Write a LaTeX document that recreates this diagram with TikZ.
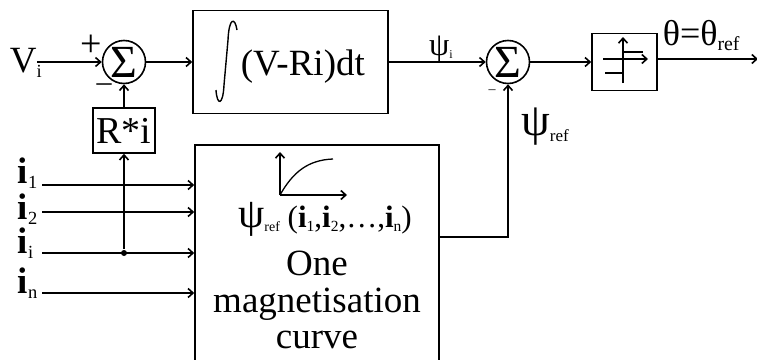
\documentclass[tikz,border=0pt]{standalone}
\usepackage{fontspec}
\setmainfont{Liberation Serif}
\usetikzlibrary{arrows.meta,calc}
\newcommand\lo[2][0.5]{\raisebox{-0.15em}{\scalebox{#1}{#2}}}
\newcommand\fs[1]{\fontsize{#1}{#1}\selectfont}
\newcommand\psibig{\scalebox{1.35}{ψ}}
\begin{document}
\begin{tikzpicture}[x=1pt,y=-1pt, line width=1.6pt,
  arr/.style={-{Straight Barb[length=5pt,width=9pt,line width=1.6pt]}},
  blk/.style={draw, rectangle, inner sep=0pt, line width=1.6pt},
  sumc/.style={draw, circle, minimum size=43pt, inner sep=0pt, font=\fs{46}},
  lbl/.style={inner sep=0pt, font=\fs{37}},
]
\useasboundingbox (0,0) rectangle (757,359);
% blocks
\node[sumc] (s1) at (124,62) {\raisebox{-0.05em}{Σ}};
\node[blk, minimum width=195, minimum height=103] (int) at (290.5,62) {};
\node[sumc] (s2) at (508,62) {\raisebox{-0.05em}{Σ}};
\node[blk, minimum width=65, minimum height=57] (rel) at (624.5,62) {};
\node[blk, minimum width=62, minimum height=45, font=\fs{38}] (R) at (124,130.5) {R*i};
\node[blk, minimum width=244, minimum height=220] (mag) at (317,255) {};
% integral block content
\draw[line width=1.4pt] (237,30) .. controls (235,17) and (229,17) .. (228,40) -- (224,85) .. controls (223,106) and (217,106) .. (216,90);
\node[lbl, anchor=base west] (intxt) at (240,75) {(V-Ri)dt};
% input V
\node[lbl, anchor=base west] (vi) at (9,72) {V\lo{i}};
\coordinate (vin) at (37,62);
\draw[arr] (vin) -- (s1);
\node[font=\fs{38}, inner sep=0] (plus) at (91,46) {+};
\node[font=\fs{30}, inner sep=0] (minus) at (104,88) {–};
\draw[arr] (s1) -- (int);
\draw[arr] (R.north) -- (s1.south);
\draw[arr] (int) -- (s2);
\node[font=\fs{24}, inner sep=0] (psii) at (441,49) {\psibig\lo{i}};
\node[font=\fs{14}, inner sep=0] (m2) at (492,92) {–};
\draw[arr] (s2) -- (rel);
% relay icon
\draw[arr] (623,83) -- (623,37);
\draw[arr] (603,59) -- (648,59);
\draw (623,52) -- (643,52);
\draw (605,73) -- (623,73);
\coordinate (out) at (758,59);
\draw[arr] (rel.east |- out) -- (out);
\node[anchor=base west, font=\fs{36}, inner sep=0] (th) at (662,45) {θ=θ\lo[0.55]{ref}};
% magnetisation block
\draw[arr, line width=1.3pt] (280,195) -- (280,152);
\draw[arr, line width=1.3pt] (280,195) -- (347,195);
\draw[line width=1.3pt] (280,195) .. controls (293,172) and (308,160) .. (333,159);
\node[anchor=base, font=\fs{31}, inner sep=0] (psiref) at (325,227) {\psibig\lo[0.45]{ref} (\textbf{i}\lo{1},\textbf{i}\lo{2},…,\textbf{i}\lo{n})};
\node[anchor=base, font=\fs{37}, inner sep=0] (one) at (317,275) {One};
\node[anchor=base, font=\fs{37}, inner sep=0] (mg) at (317,312) {magnetisation};
\node[anchor=base, font=\fs{37}, inner sep=0] (cv) at (317,348) {curve};
\draw[arr] ([yshift=18pt]mag.east) -| (s2.south);
\node[font=\fs{34}, inner sep=0] (psir) at (545,127) {\psibig\lo[0.5]{ref}};
% current inputs
\node[lbl, anchor=base west] (l1) at (17,183) {\textbf{i}\lo{1}};
\node[lbl, anchor=base west] (l2) at (17,219) {\textbf{i}\lo{2}};
\node[lbl, anchor=base west] (li) at (17,253) {\textbf{i}\lo{i}};
\node[lbl, anchor=base west] (ln) at (17,293) {\textbf{i}\lo{n}};
\coordinate (c1) at (42,185);
\coordinate (c2) at (42,212);
\coordinate (ci) at (42,253);
\coordinate (cn) at (42,293);
\draw[arr] (c1) -- (c1 -| mag.west);
\draw[arr] (c2) -- (c2 -| mag.west);
\draw[arr] (ci) -- (ci -| mag.west);
\draw[arr] (cn) -- (cn -| mag.west);
\node[circle, fill, inner sep=0pt, minimum size=6pt] (j) at (124,253) {};
\draw[arr] (j) -- (R.south);
\end{tikzpicture}
\end{document}
